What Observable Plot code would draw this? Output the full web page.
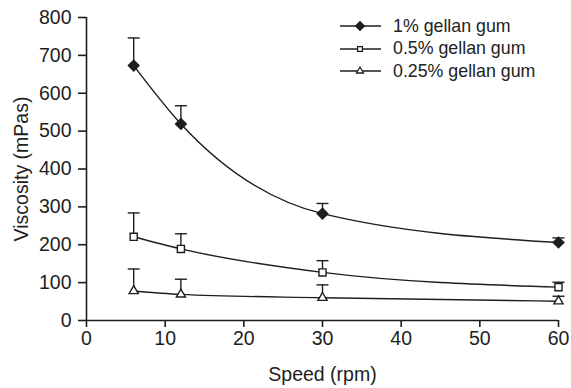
<!DOCTYPE html>
<html>
<head>
<meta charset="utf-8">
<script src="https://cdn.jsdelivr.net/npm/d3@7"></script>
<script src="https://cdn.jsdelivr.net/npm/@observablehq/plot@0.6"></script>
<style>
  html, body { margin: 0; padding: 0; background: #fff; }
  #wrap { position: relative; width: 571px; height: 388px; font-family: "Liberation Sans", Arial, sans-serif; }
  #legend { position: absolute; left: 338px; top: 15px; font-size: 17.8px; color: #222; }
  #legend .row { display: flex; align-items: center; height: 22.5px; }
  #legend svg { margin-right: 11px; }
</style>
</head>
<body>
<div id="wrap"></div>
<script>
const speeds = [6, 12, 30, 60];
const seriesNames = ["1% gellan gum", "0.5% gellan gum", "0.25% gellan gum"];
const viscosity1 = [673, 519, 282, 206];
const error1 = [746, 567, 309, 218];
const viscosity05 = [221, 189, 127, 88];
const error05 = [284, 229, 158, 101];
const viscosity025 = [78, 69, 60, 51];
const error025 = [136, 109, 94, 64];
const xTicks = [0, 10, 20, 30, 40, 50, 60];
const yTicks = [0, 100, 200, 300, 400, 500, 600, 700, 800];

const ink = "#1e1e1e";
const symbols = ["diamond2", "square", "triangle"];
const fills = [ink, "white", "white"];
const radii = [4.8, 4, 3.4];

const vals = [viscosity1, viscosity05, viscosity025];
const errs = [error1, error05, error025];
const data = [];
seriesNames.forEach((s, i) => speeds.forEach((x, j) => data.push({series: s, idx: i, x, y: vals[i][j], err: errs[i][j]})));

const cap = { draw(context) { context.moveTo(-6, 0); context.lineTo(6, 0); } };

const marks = [
  Plot.ruleX(data, {x: "x", y1: "y", y2: "err", stroke: ink, strokeWidth: 1.4}),
  Plot.dot(data, {x: "x", y: "err", symbol: () => cap, stroke: ink, strokeWidth: 1.4, r: 3}),
  Plot.ruleY([0], {stroke: ink, strokeWidth: 1.6}),
  Plot.ruleX([0], {stroke: ink, strokeWidth: 1.6}),
];
seriesNames.forEach((s, i) => {
  const d = data.filter(e => e.idx === i);
  marks.push(Plot.line(d, {x: "x", y: "y", curve: "monotone-x", stroke: ink, strokeWidth: 1.4}));
  marks.push(Plot.dot(d, {x: "x", y: "y", symbol: symbols[i], fill: fills[i], stroke: ink, strokeWidth: 1.4, r: radii[i]}));
});

const chart = Plot.plot({
  width: 571,
  height: 388,
  marginLeft: 86,
  marginRight: 13,
  marginTop: 17,
  marginBottom: 68,
  style: {fontFamily: "'Liberation Sans', Arial, sans-serif", fontSize: "19.5px", color: ink, background: "white"},
  x: {domain: [0, 60]},
  y: {domain: [0, 800]},
  marks: [
    Plot.axisX({ticks: xTicks, tickSize: 7, tickPadding: 4, label: "Speed (rpm)", labelAnchor: "center", labelOffset: 60, labelArrow: "none", strokeWidth: 1.6, fontSize: 19.5}),
    Plot.axisY({ticks: yTicks, tickSize: 8, tickPadding: 7, label: "Viscosity (mPas)", labelAnchor: "center", labelOffset: 72, labelArrow: "none", strokeWidth: 1.6, fontSize: 19.5}),
    ...marks
  ]
});
document.getElementById("wrap").appendChild(chart);

// legend overlay
const legend = document.createElement("div");
legend.id = "legend";
seriesNames.forEach((s, i) => {
  const row = document.createElement("div");
  row.className = "row";
  const ns = "http://www.w3.org/2000/svg";
  const sv = document.createElementNS(ns, "svg");
  sv.setAttribute("width", 44); sv.setAttribute("height", 16);
  const ln = document.createElementNS(ns, "line");
  ln.setAttribute("x1", 2); ln.setAttribute("x2", 43); ln.setAttribute("y1", 8); ln.setAttribute("y2", 8);
  ln.setAttribute("stroke", ink); ln.setAttribute("stroke-width", 1.4);
  sv.appendChild(ln);
  const symType = [d3.symbolDiamond2, d3.symbolSquare, d3.symbolTriangle][i];
  const sz = [3.9, 2.7, 2.6][i];
  const p = document.createElementNS(ns, "path");
  p.setAttribute("d", d3.symbol(symType, sz * sz * Math.PI)());
  p.setAttribute("transform", "translate(22,8)");
  p.setAttribute("fill", fills[i]); p.setAttribute("stroke", ink); p.setAttribute("stroke-width", 1.3);
  sv.appendChild(p);
  row.appendChild(sv);
  const t = document.createElement("span");
  t.textContent = s;
  row.appendChild(t);
  legend.appendChild(row);
});
document.getElementById("wrap").appendChild(legend);
</script>
</body>
</html>
